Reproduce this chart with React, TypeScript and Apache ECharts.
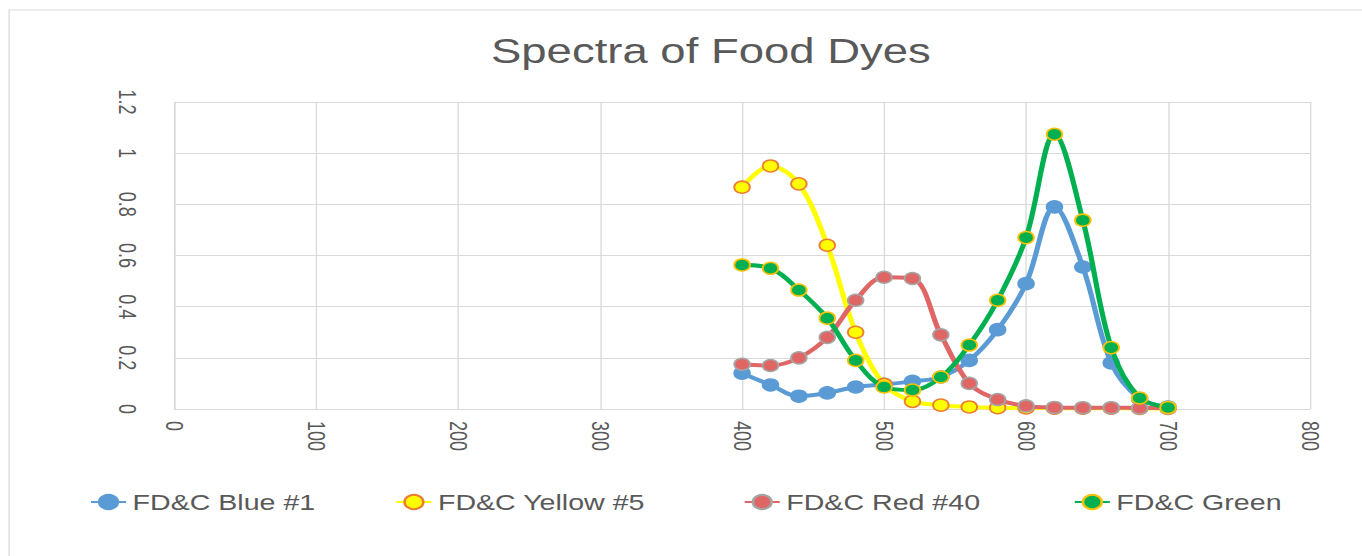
import React, { useEffect, useRef } from "react";
import * as echarts from "echarts";

const wavelengths = [400, 420, 440, 460, 480, 500, 520, 540, 560, 580, 600, 620, 640, 660, 680, 700];
const blue1 = [0.14, 0.094, 0.05, 0.063, 0.086, 0.096, 0.108, 0.125, 0.19, 0.31, 0.49, 0.79, 0.555, 0.18, 0.04, 0.008];
const yellow5 = [0.867, 0.95, 0.88, 0.64, 0.3, 0.096, 0.03, 0.015, 0.008, 0.005, 0.004, 0.003, 0.003, 0.003, 0.002, 0.002];
const red40 = [0.175, 0.17, 0.2, 0.28, 0.425, 0.515, 0.51, 0.29, 0.1, 0.037, 0.012, 0.006, 0.005, 0.005, 0.004, 0.004];
const green = [0.563, 0.55, 0.465, 0.355, 0.19, 0.086, 0.074, 0.125, 0.25, 0.425, 0.67, 1.074, 0.738, 0.24, 0.043, 0.006];

const seriesNames = ["FD&C Blue #1", "FD&C Yellow #5", "FD&C Red #40", "FD&C Green"];
const titleText = "Spectra of Food Dyes";

const FULL_W = 1362;
const H = 556;
const W = 1048;
const SX = FULL_W / W;

const zip = (vals: number[]) => wavelengths.map((w, i) => [w, vals[i]]);

export default function App() {
  const ref = useRef<HTMLDivElement>(null);
  useEffect(() => {
    if (!ref.current) return;
    const chart = echarts.init(ref.current, null, { renderer: "svg" });
    const textColor = "#595959";
    const gridColor = "#d9d9d9";
    const styles = [
      { line: "#5B9BD5", fill: "#5B9BD5", border: "#5B9BD5" },
      { line: "#FFFF00", fill: "#FFFF00", border: "#ED7D31" },
      { line: "#E06666", fill: "#E06666", border: "#A5A5A5" },
      { line: "#00B050", fill: "#00B050", border: "#FFC000" },
    ];
    const datas = [blue1, yellow5, red40, green];
    const legendLefts = [69, 304, 572, 826];
    chart.setOption({
      animation: false,
      backgroundColor: "#ffffff",
      title: {
        text: titleText,
        left: 542,
        top: 28,
        textAlign: "center",
        textStyle: {
          fontFamily: "Liberation Sans, Arial, sans-serif",
          fontSize: 35,
          fontWeight: "normal",
          color: textColor,
        },
      },
      graphic: [
        {
          type: "rect",
          shape: { x: 7, y: 10, width: 1200, height: 700 },
          style: { fill: "none", stroke: "#d9d9d9", lineWidth: 1 },
          silent: true,
          z: -10,
        },
      ],
      legend: seriesNames.map((n, i) => ({
        data: [n],
        left: legendLefts[i],
        top: 491,
        padding: 0,
        itemWidth: 27,
        itemHeight: 18,
        itemGap: 5,
        textStyle: {
          fontFamily: "Liberation Sans, Arial, sans-serif",
          fontSize: 22,
          color: textColor,
        },
      })),
      grid: { left: 134, right: 40, top: 102, height: 307 },
      xAxis: {
        type: "value",
        min: 0,
        max: 800,
        interval: 100,
        axisLine: { show: true, lineStyle: { color: gridColor, width: 1 } },
        axisTick: { show: false },
        splitLine: { show: true, lineStyle: { color: gridColor, width: 1 } },
        axisLabel: {
          rotate: -90,
          margin: 12,
          align: "left",
          verticalAlign: "middle",
          fontFamily: "Liberation Sans, Arial, sans-serif",
          fontSize: 18,
          color: textColor,
        },
      },
      yAxis: {
        type: "value",
        min: 0,
        max: 1.2,
        interval: 0.2,
        axisLine: { show: true, lineStyle: { color: gridColor, width: 1 } },
        axisTick: { show: false },
        splitLine: { show: true, lineStyle: { color: gridColor, width: 1 } },
        axisLabel: {
          rotate: -90,
          margin: 36,
          align: "center",
          verticalAlign: "middle",
          fontFamily: "Liberation Sans, Arial, sans-serif",
          fontSize: 18,
          color: textColor,
          formatter: (v: number) => String(+v.toFixed(1)),
        },
      },
      series: seriesNames.map((n, i) => ({
        name: n,
        type: "line",
        smooth: 0.35,
        data: zip(datas[i]),
        symbol: "circle",
        symbolSize: 12,
        lineStyle: { color: styles[i].line, width: 4 },
        itemStyle: { color: styles[i].fill, borderColor: styles[i].border, borderWidth: 1.5 },
        z: 2 + i,
      })),
    });
    return () => chart.dispose();
  }, []);
  return (
    <div
      style={{
        position: "absolute",
        left: 0,
        top: 0,
        width: FULL_W,
        height: H,
        overflow: "hidden",
        background: "#fff",
      }}
    >
      <div
        ref={ref}
        style={{
          width: W,
          height: H,
          transform: `scaleX(${SX})`,
          transformOrigin: "0 0",
        }}
      />
    </div>
  );
}
